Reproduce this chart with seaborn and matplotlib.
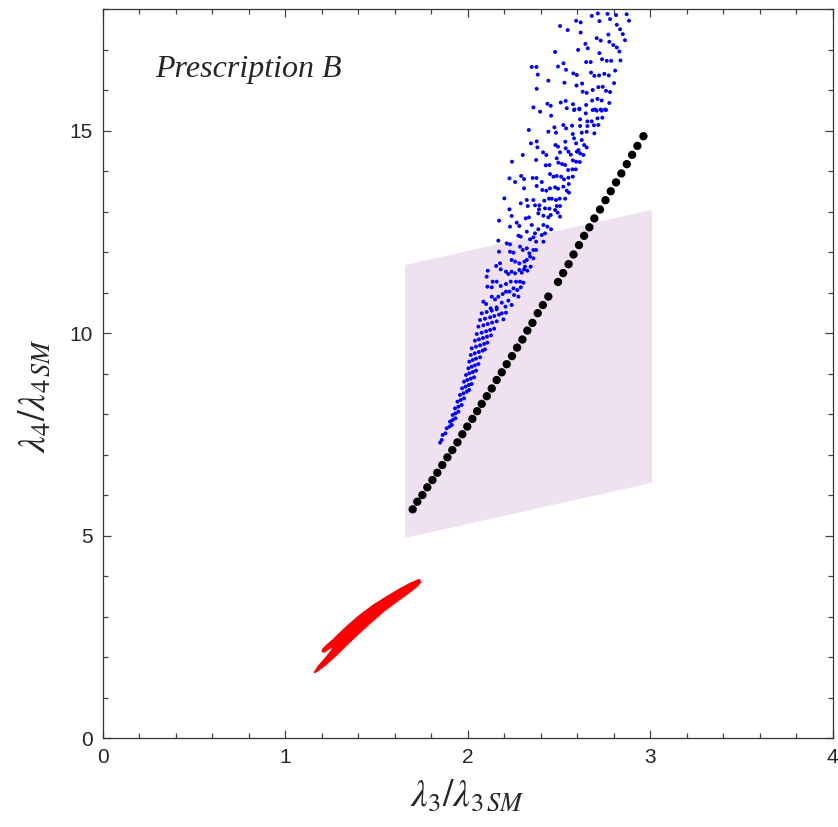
import numpy as np
import pandas as pd
import matplotlib
matplotlib.use("Agg")
import matplotlib.pyplot as plt
import seaborn as sns
from matplotlib.ticker import MultipleLocator

# ---------------- data ----------------
x_ticks = [0, 1, 2, 3, 4]
y_ticks = [0, 5, 10, 15]

# shaded band (lavender quadrilateral)
band_x = [1.657, 1.657, 3.01, 3.01]
band_y = [4.94, 11.68, 13.04, 6.30]

# red region outline
red_x = [1.735, 1.684, 1.629, 1.556, 1.483, 1.410, 1.346, 1.297, 1.264, 1.228,
         1.206, 1.202, 1.213, 1.264, 1.255, 1.219, 1.182, 1.158,
         1.173, 1.228, 1.282, 1.337, 1.401, 1.465, 1.538, 1.611, 1.675, 1.721, 1.743]
red_y = [3.918, 3.819, 3.687, 3.490, 3.284, 3.037, 2.790, 2.584, 2.436, 2.296,
         2.198, 2.140, 2.115, 2.272, 2.173, 1.967, 1.778, 1.613,
         1.638, 1.827, 2.049, 2.296, 2.568, 2.831, 3.119, 3.366, 3.572, 3.737, 3.852]

# black points
black_x = [1.699, 1.724, 1.752, 1.779, 1.807, 1.834, 1.861, 1.889, 1.916, 1.944,
           1.971, 1.998, 2.026, 2.052, 2.077, 2.105, 2.132, 2.159, 2.187, 2.214,
           2.243, 2.271, 2.300, 2.327, 2.355, 2.384, 2.412, 2.442, 2.495, 2.523,
           2.553, 2.580, 2.610, 2.638, 2.667, 2.694, 2.725, 2.755, 2.784, 2.813,
           2.842, 2.872, 2.901, 2.930, 2.963]
black_y = [5.647, 5.835, 6.00, 6.19, 6.37, 6.55, 6.74, 6.93, 7.11, 7.30,
           7.50, 7.69, 7.88, 8.07, 8.25, 8.44, 8.63, 8.84, 9.03, 9.23,
           9.43, 9.64, 9.84, 10.06, 10.25, 10.49, 10.69, 10.90, 11.26, 11.48,
           11.70, 11.94, 12.17, 12.40, 12.61, 12.83, 13.05, 13.28, 13.50, 13.72,
           13.94, 14.17, 14.40, 14.62, 14.86]

# blue points, top part of the cloud
blue_top = [
    (2.680, 17.83), (2.713, 17.89), (2.766, 17.88), (2.780, 17.75), (2.813, 17.85),
    (2.871, 17.87), (2.884, 17.71), (2.594, 17.71), (2.619, 17.67), (2.722, 17.70),
    (2.506, 17.58), (2.548, 17.48), (2.619, 17.42), (2.817, 17.61), (2.835, 17.50),
    (2.850, 17.38), (2.771, 17.37), (2.862, 17.23), (2.707, 17.28), (2.729, 17.22),
    (2.776, 17.19), (2.798, 17.11), (2.817, 17.05), (2.831, 16.95), (2.645, 17.14),
    (2.658, 17.03), (2.605, 16.99), (2.479, 16.94), (2.722, 16.91), (2.736, 16.76),
    (2.762, 16.72), (2.786, 16.72), (2.837, 16.73), (2.649, 16.69), (2.674, 16.69),
    (2.525, 16.66), (2.495, 16.58), (2.539, 16.50), (2.351, 16.57), (2.377, 16.57),
    (2.384, 16.38), (2.579, 16.41), (2.598, 16.37), (2.676, 16.43), (2.694, 16.35),
    (2.720, 16.36), (2.749, 16.40), (2.773, 16.36), (2.808, 16.48), (2.442, 16.23),
    (2.530, 16.18), (2.596, 16.11), (2.627, 16.16), (2.716, 16.07), (2.740, 16.08),
    (2.758, 15.98), (2.780, 15.95), (2.802, 16.17), (2.378, 16.03), (2.630, 15.96),
    (2.652, 15.93), (2.685, 16.00), (2.711, 15.78), (2.734, 15.74), (2.776, 15.68),
    (2.682, 15.74), (2.510, 15.69), (2.537, 15.73), (2.577, 15.65), (2.649, 15.63),
    (2.360, 15.57), (2.437, 15.66), (2.455, 15.61), (2.543, 15.55), (2.585, 15.52),
    (2.612, 15.54), (2.698, 15.52), (2.729, 15.52), (2.753, 15.52),
]

# blue points, upper-middle part
blue_upper = [
    (2.397, 15.465), (2.457, 15.366), (2.583, 15.506), (2.612, 15.523), (2.647, 15.424),
    (2.685, 15.506), (2.707, 15.49), (2.734, 15.49), (2.758, 15.506), (2.616, 15.276),
    (2.656, 15.226), (2.680, 15.226), (2.711, 15.30), (2.738, 15.317), (2.335, 15.012),
    (2.442, 14.971), (2.484, 14.946), (2.475, 15.078), (2.524, 15.136), (2.539, 15.053),
    (2.572, 15.119), (2.616, 15.111), (2.656, 15.111), (2.692, 15.128), (2.716, 15.136),
    (2.576, 14.914), (2.625, 14.946), (2.652, 14.971), (2.694, 14.93), (2.347, 14.683),
    (2.378, 14.732), (2.382, 14.584), (2.481, 14.642), (2.495, 14.601), (2.535, 14.724),
    (2.583, 14.807), (2.594, 14.683), (2.625, 14.765), (2.638, 14.642), (2.652, 14.584),
    (2.607, 14.518), (2.302, 14.395), (2.413, 14.461), (2.431, 14.395), (2.506, 14.461),
    (2.537, 14.56), (2.552, 14.477), (2.565, 14.403), (2.598, 14.477), (2.616, 14.436),
    (2.634, 14.395), (2.243, 14.23), (2.375, 14.272), (2.428, 14.14), (2.448, 14.148),
    (2.488, 14.313), (2.497, 14.206), (2.517, 14.173), (2.534, 14.148), (2.576, 14.263),
    (2.594, 14.23), (2.614, 14.222), (2.550, 14.025), (2.574, 14.041), (2.592, 14.041),
    (2.229, 13.819), (2.260, 13.728), (2.293, 13.877), (2.309, 13.802), (2.356, 13.827),
    (2.377, 13.827), (2.406, 13.728), (2.451, 13.926), (2.470, 13.860), (2.488, 13.877),
    (2.512, 13.860), (2.528, 13.794), (2.552, 13.835), (2.576, 13.860), (2.309, 13.572),
    (2.378, 13.630), (2.409, 13.531), (2.431, 13.514), (2.451, 13.572), (2.479, 13.597),
    (2.495, 13.564), (2.524, 13.613), (2.554, 13.679), (2.543, 13.514), (2.555, 13.465),
    (2.201, 13.325), (2.291, 13.202), (2.324, 13.284), (2.329, 13.136), (2.360, 13.284),
    (2.369, 13.152), (2.393, 13.152), (2.420, 13.268), (2.446, 13.317), (2.461, 13.317),
    (2.484, 13.284), (2.504, 13.317), (2.534, 13.317), (2.488, 13.136), (2.506, 13.136),
    (2.229, 13.054), (2.391, 13.054), (2.424, 13.078), (2.448, 13.070),
]

# blue points, middle part
blue_mid = [
    (2.172, 12.774), (2.241, 12.889), (2.269, 12.724), (2.283, 12.642), (2.232, 12.626),
    (2.318, 12.831), (2.336, 12.856), (2.351, 12.667), (2.387, 12.955), (2.415, 12.897),
    (2.442, 12.856), (2.455, 12.914), (2.479, 13.037), (2.493, 12.971), (2.506, 12.873),
    (2.415, 12.667), (2.437, 12.626), (2.457, 12.560), (2.387, 12.560), (2.369, 12.461),
    (2.168, 12.280), (2.214, 12.214), (2.232, 12.189), (2.278, 12.403), (2.291, 12.379),
    (2.324, 12.502), (2.342, 12.313), (2.360, 12.362), (2.375, 12.255), (2.406, 12.420),
    (2.424, 12.461), (2.415, 12.255), (2.172, 12.008), (2.232, 12.008), (2.251, 11.984),
    (2.287, 12.132), (2.302, 12.050), (2.324, 12.091), (2.338, 11.967), (2.360, 12.050),
    (2.375, 12.050), (2.177, 11.720), (2.156, 11.655), (2.241, 11.803), (2.260, 11.762),
    (2.283, 11.720), (2.311, 11.762), (2.324, 11.803), (2.342, 11.885), (2.360, 11.844),
    (2.345, 11.638), (2.314, 11.638), (2.110, 11.539), (2.104, 11.391), (2.181, 11.572),
    (2.210, 11.515), (2.223, 11.457), (2.241, 11.515), (2.260, 11.473), (2.283, 11.556),
    (2.296, 11.490), (2.309, 11.572), (2.327, 11.539), (2.137, 11.268), (2.159, 11.268),
    (2.181, 11.161), (2.132, 11.128), (2.108, 11.144), (2.210, 11.210), (2.236, 11.268),
    (2.265, 11.268), (2.287, 11.268), (2.305, 11.243), (2.251, 11.103), (2.272, 11.062),
    (2.291, 11.128), (2.086, 10.774), (2.101, 10.716), (2.132, 10.897), (2.150, 10.831),
    (2.168, 10.897), (2.192, 10.963), (2.210, 11.021), (2.229, 11.021), (2.254, 10.938),
    (2.278, 10.897), (2.187, 10.749), (2.223, 10.799), (2.241, 10.692), (2.207, 10.651),
    (2.159, 10.634), (2.126, 10.609),
]

# blue points, narrow tail of the cloud
blue_tail = [
    (1.849, 7.293), (1.858, 7.359), (1.863, 7.482), (1.878, 7.523), (1.885, 7.647),
    (1.900, 7.688), (1.913, 7.729), (1.903, 7.811), (1.918, 7.853), (1.933, 7.894),
    (1.918, 7.976), (1.933, 8.017), (1.949, 8.058), (1.931, 8.140), (1.949, 8.182),
    (1.967, 8.223), (1.944, 8.305), (1.962, 8.346), (1.980, 8.387), (1.958, 8.470),
    (1.977, 8.511), (1.995, 8.552), (2.008, 8.593), (1.969, 8.634), (1.988, 8.675),
    (2.006, 8.717), (2.022, 8.741), (1.980, 8.799), (1.998, 8.840), (2.017, 8.873),
    (2.035, 8.906), (1.991, 8.963), (2.009, 9.005), (2.028, 9.037), (2.046, 9.070),
    (2.004, 9.128), (2.022, 9.169), (2.040, 9.202), (2.059, 9.235), (2.009, 9.293),
    (2.028, 9.334), (2.046, 9.367), (2.068, 9.400), (2.017, 9.457), (2.039, 9.498),
    (2.061, 9.531), (2.082, 9.564), (2.095, 9.597), (2.022, 9.622), (2.046, 9.663),
    (2.068, 9.696), (2.090, 9.729), (2.108, 9.762), (2.040, 9.811), (2.062, 9.844),
    (2.084, 9.877), (2.106, 9.910), (2.128, 9.943), (2.050, 9.976), (2.077, 10.009),
    (2.101, 10.042), (2.123, 10.075), (2.145, 10.107), (2.059, 10.157), (2.086, 10.190),
    (2.110, 10.223), (2.134, 10.256), (2.159, 10.288), (2.068, 10.321), (2.095, 10.354),
    (2.123, 10.387), (2.146, 10.420), (2.172, 10.453), (2.196, 10.338), (2.077, 10.486),
    (2.104, 10.519), (2.132, 10.552), (2.159, 10.585), (2.187, 10.486), (2.210, 10.502),
]

# ---------------- plotting ----------------
sns.set_style("ticks")
plt.rcParams["font.family"] = ["Liberation Sans", "DejaVu Sans"]
plt.rcParams["mathtext.fontset"] = "stix"

fig = plt.figure(figsize=(8.38, 8.27), dpi=100)
ax = fig.add_axes([0.1224, 0.1076, 0.8713, 0.8815])

ax.fill(band_x, band_y, color="#EFE1EF", lw=0, zorder=1)
ax.fill(red_x, red_y, color="#FF0000", lw=0.8, ec="#FF0000", zorder=2)

blue = pd.DataFrame(blue_top + blue_upper + blue_mid + blue_tail, columns=["x", "y"])
black = pd.DataFrame({"x": black_x, "y": black_y})

sns.scatterplot(data=black, x="x", y="y", ax=ax, color="black", s=36,
                edgecolor="none", linewidth=0, zorder=3)
sns.scatterplot(data=blue, x="x", y="y", ax=ax, color="#0000FF", s=8,
                edgecolor="none", linewidth=0, zorder=4)

ax.set_xlim(0, 4)
ax.set_ylim(0, 18)
ax.set_xticks(x_ticks)
ax.set_yticks(y_ticks)
ax.xaxis.set_minor_locator(MultipleLocator(0.2))
ax.yaxis.set_minor_locator(MultipleLocator(1))
ax.tick_params(which="both", direction="in", top=True, right=True,
               color="#444444", width=0.9)
ax.tick_params(which="major", length=6, labelsize=15, pad=7)
ax.tick_params(which="minor", length=3.6)
for sp in ax.spines.values():
    sp.set_visible(True)
    sp.set_color("#333333")
    sp.set_linewidth(0.9)

ax.set_xlabel(r"$\lambda_3/\lambda_{3\,SM}$", fontsize=27)
ax.set_ylabel(r"$\lambda_4/\lambda_{4\,SM}$", fontsize=27)
ax.xaxis.set_label_coords(0.5, -0.055)
ax.yaxis.set_label_coords(-0.068, 0.47)

ax.text(0.29, 16.5, "Prescription B", fontsize=23, style="italic",
        family=["Liberation Serif", "DejaVu Serif"], va="center", ha="left")

fig.savefig("out.png", dpi=100)
